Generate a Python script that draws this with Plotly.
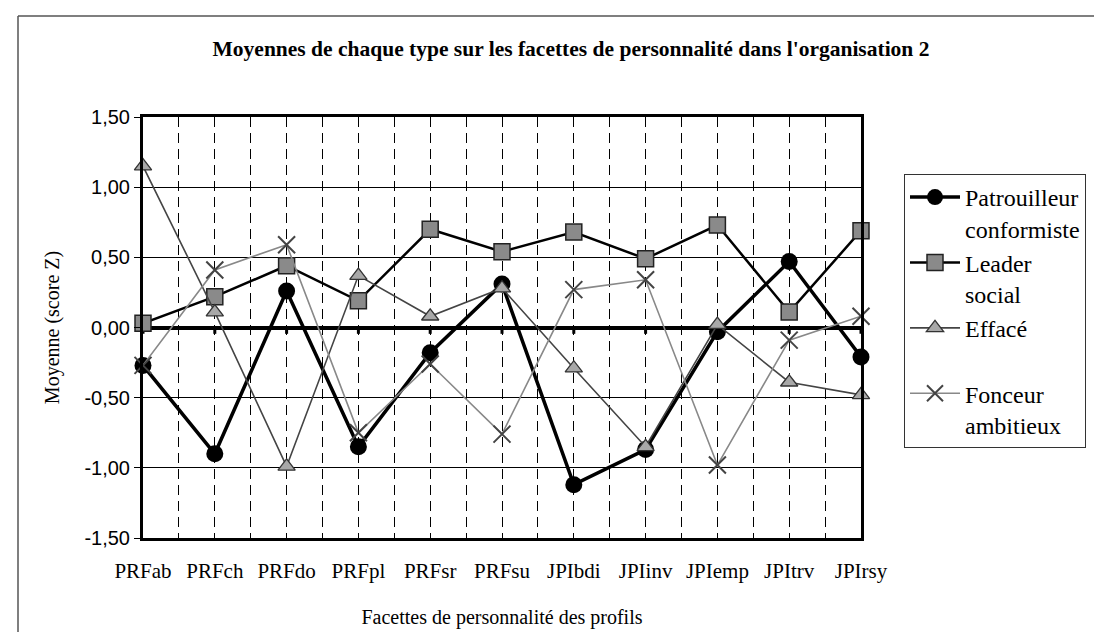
import plotly.graph_objects as go

categories = ["PRFab", "PRFch", "PRFdo", "PRFpl", "PRFsr", "PRFsu",
              "JPIbdi", "JPIinv", "JPIemp", "JPItrv", "JPIrsy"]

patrouilleur = [-0.27, -0.90, 0.26, -0.85, -0.18, 0.31, -1.12, -0.87, -0.03, 0.47, -0.21]
leader = [0.03, 0.22, 0.44, 0.19, 0.70, 0.54, 0.68, 0.49, 0.73, 0.11, 0.69]
efface = [1.15, 0.11, -0.99, 0.37, 0.08, 0.28, -0.29, -0.85, 0.02, -0.39, -0.48]
fonceur = [-0.27, 0.41, 0.59, -0.75, -0.26, -0.76, 0.27, 0.34, -0.98, -0.09, 0.08]

series_names = ["Patrouilleur<br>conformiste", "Leader<br>social", "Effacé<br>&nbsp;", "Fonceur<br>ambitieux"]

y_tick_values = [-1.5, -1.0, -0.5, 0.0, 0.5, 1.0, 1.5]
y_tick_labels = ["-1,50", "-1,00", "-0,50", "0,00", "0,50", "1,00", "1,50"]

title_text = "Moyennes de chaque type sur les facettes de personnalité dans l'organisation 2"
x_title = "Facettes de personnalité des profils"
y_title = "Moyenne (score Z)"

x = list(range(len(categories)))
serif = "Liberation Serif, Times New Roman, serif"
sans = "Liberation Sans, Arial, sans-serif"

fig = go.Figure()
fig.add_trace(go.Scatter(x=x, y=patrouilleur, name=series_names[0], mode="lines+markers",
                         cliponaxis=False,
                         line=dict(color="black", width=3.5),
                         marker=dict(symbol="circle", size=17, color="black")))
fig.add_trace(go.Scatter(x=x, y=leader, name=series_names[1], mode="lines+markers",
                         cliponaxis=False,
                         line=dict(color="black", width=2.5),
                         marker=dict(symbol="square", size=16, color="#8a8a8a",
                                     line=dict(color="#222", width=1.5))))
fig.add_trace(go.Scatter(x=x, y=efface, name=series_names[2], mode="lines+markers",
                         cliponaxis=False,
                         line=dict(color="#444", width=1.6),
                         marker=dict(symbol="triangle-up", size=15, color="#a8a8a8",
                                     line=dict(color="#333", width=1.3))))
fig.add_trace(go.Scatter(x=x, y=fonceur, name=series_names[3], mode="lines+markers",
                         cliponaxis=False,
                         line=dict(color="#888", width=1.6),
                         marker=dict(symbol="x-thin", size=17, color="#444",
                                     line=dict(color="#444", width=2))))

# small tick marks hanging from the zero line at each category
for i in x:
    fig.add_shape(type="line", xref="x", yref="y", x0=i, x1=i, y0=0, y1=-0.045,
                  line=dict(color="black", width=3), layer="below")

# outer chart border (top and left visible)
L, R, T, B = 135, 853, 109, 530
pw, ph = R - L, B - T
px = lambda p: (p - L) / pw
py = lambda p: (B - p) / ph
fig.add_shape(type="line", xref="paper", yref="paper", x0=px(10), x1=px(1102), y0=py(8), y1=py(8),
              line=dict(color="#555", width=1.5))
fig.add_shape(type="line", xref="paper", yref="paper", x0=px(10), x1=px(10), y0=py(8), y1=py(632),
              line=dict(color="#555", width=1.5))

fig.update_layout(
    width=1102, height=632,
    margin=dict(l=L, r=1102 - R, t=T, b=632 - B),
    paper_bgcolor="white", plot_bgcolor="white",
    title=dict(text="<b>" + title_text + "</b>", font=dict(family=serif, size=21.5, color="black"),
               x=px(563), xref="paper", xanchor="center", y=1 - 40 / 632, yanchor="middle"),
    showlegend=True,
    legend=dict(x=px(896), y=py(166), xanchor="left", yanchor="top",
                font=dict(family=serif, size=24, color="black"),
                bordercolor="#333", borderwidth=1, bgcolor="white",
                valign="top", itemwidth=50, tracegroupgap=0),
    xaxis=dict(range=[0, 10], tickmode="array", tickvals=x, ticktext=categories,
               tickfont=dict(family=serif, size=21, color="black"),
               ticks="", ticklabelstandoff=12,
               showgrid=True, gridcolor="black", gridwidth=1, griddash="10px,6px",
               minor=dict(dtick=0.5, tick0=0, showgrid=True, gridcolor="black", gridwidth=1,
                          griddash="10px,6px", ticks=""),
               showline=True, linecolor="black", linewidth=3, mirror=True,
               zeroline=False,
               title=dict(text=x_title, font=dict(family=serif, size=20, color="black"), standoff=28)),
    yaxis=dict(range=[-1.5, 1.5], tickmode="array", tickvals=y_tick_values, ticktext=y_tick_labels,
               tickfont=dict(family=sans, size=20, color="black"),
               ticks="outside", ticklen=6, tickcolor="black", tickwidth=1,
               showgrid=True, gridcolor="black", gridwidth=1,
               zeroline=True, zerolinecolor="black", zerolinewidth=4,
               showline=True, linecolor="black", linewidth=3, mirror=True,
               title=dict(text=y_title, font=dict(family=serif, size=20, color="black"), standoff=20)),
)

fig.write_html("out.html")
